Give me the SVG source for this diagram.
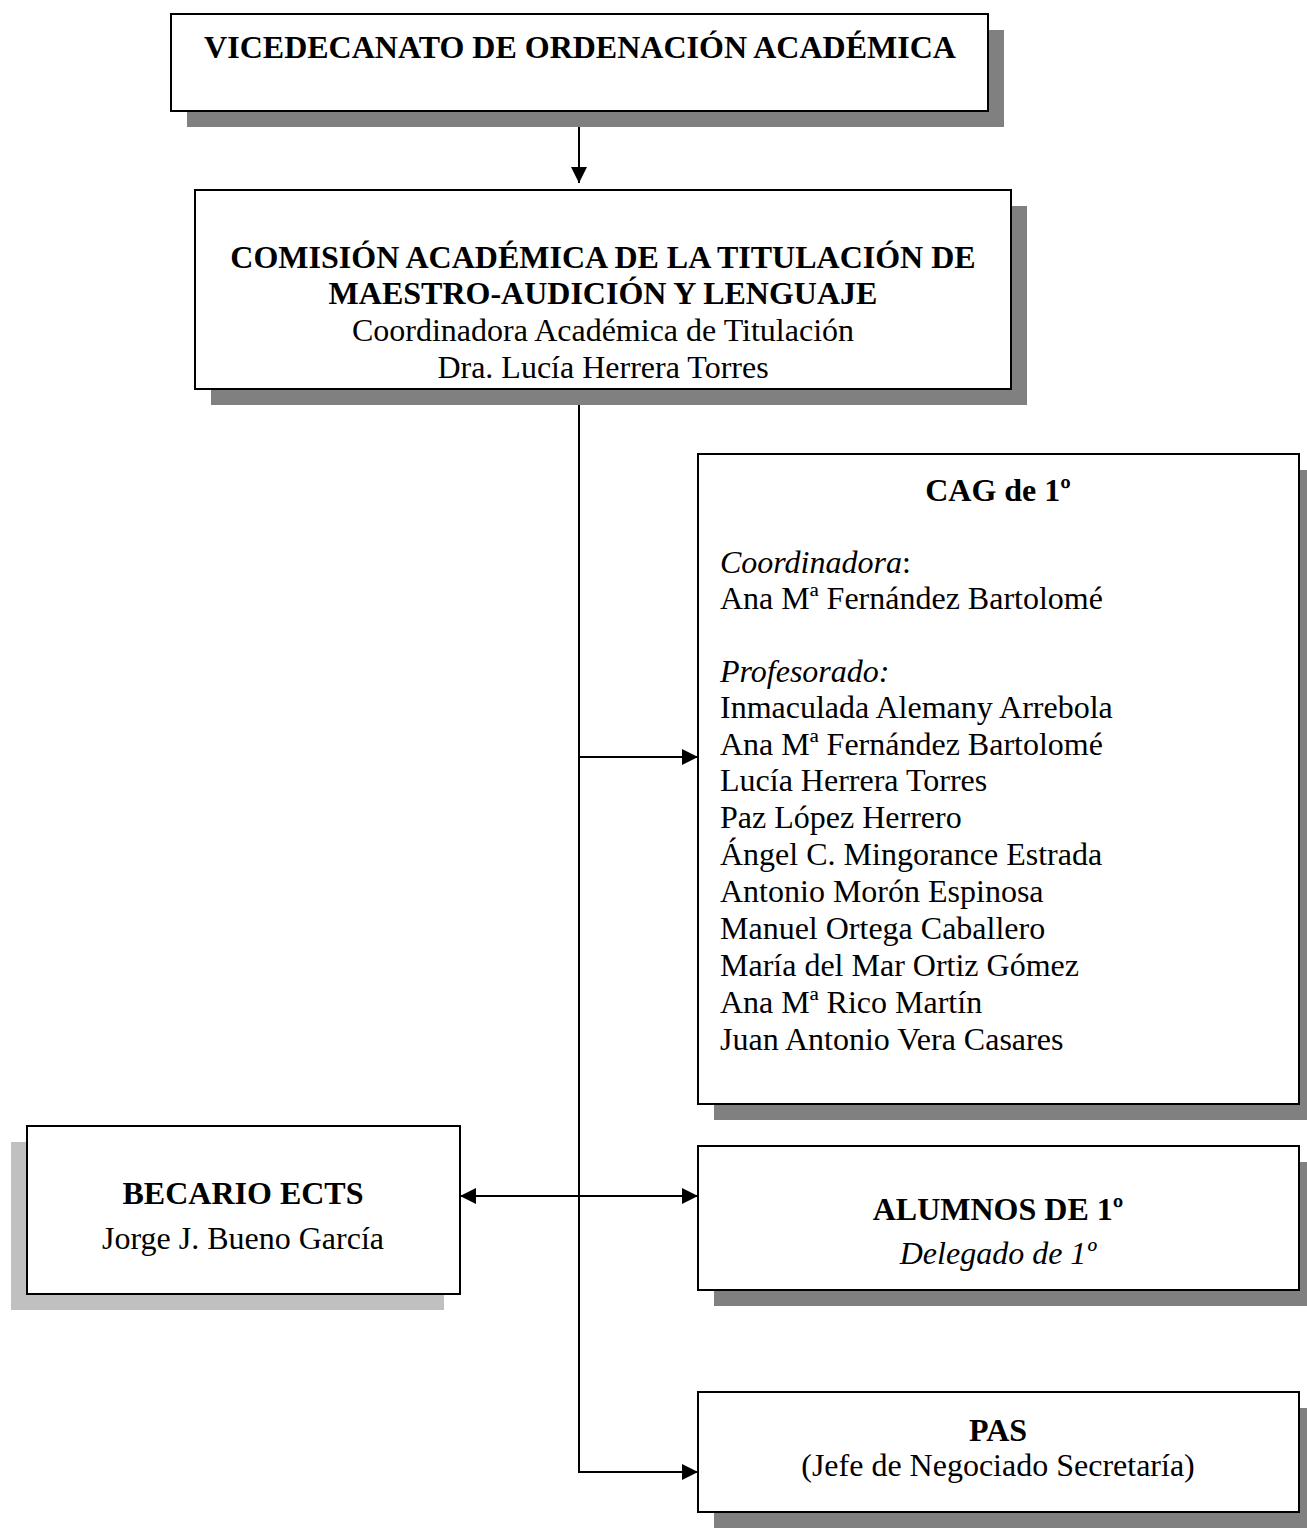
<svg xmlns="http://www.w3.org/2000/svg" width="1307" height="1531" viewBox="0 0 1307 1531">
<style>
.box{fill:#fff;stroke:#000;stroke-width:2}
.sh{fill:#808080}
.shl{fill:#c0c0c0}
text{font-family:"Liberation Serif","Times New Roman",serif;font-size:32px;fill:#000}
.b{font-weight:bold}
.i{font-style:italic}
.c{text-anchor:middle}
.ln{stroke:#000;stroke-width:2;fill:none}
</style>
<defs>
<marker id="ah" markerUnits="userSpaceOnUse" markerWidth="16" markerHeight="16" viewBox="0 0 16 16" refX="16" refY="8" orient="auto-start-reverse">
<path d="M0,0 L16,8 L0,16 Z" fill="#000"/>
</marker>
</defs>
<g id="connectors">
<line class="ln" x1="579" y1="111" x2="579" y2="183" marker-end="url(#ah)"/>
<line class="ln" x1="579" y1="389" x2="579" y2="1472"/>
<line class="ln" x1="579" y1="757" x2="698" y2="757" marker-end="url(#ah)"/>
<line class="ln" x1="460" y1="1196" x2="698" y2="1196" marker-start="url(#ah)" marker-end="url(#ah)"/>
<line class="ln" x1="578" y1="1472" x2="698" y2="1472" marker-end="url(#ah)"/>
</g>
<g id="vicedecanato">
<rect class="sh" x="187" y="30" width="817" height="97"/>
<rect class="box" x="171" y="14" width="817" height="97"/>
<text class="b c" x="580" y="58">VICEDECANATO DE ORDENACIÓN ACADÉMICA</text>
</g>
<g id="comision">
<rect class="sh" x="211" y="206" width="816" height="199"/>
<rect class="box" x="195" y="190" width="816" height="199"/>
<text class="b c" x="603" y="268">COMISIÓN ACADÉMICA DE LA TITULACIÓN DE</text>
<text class="b c" x="603" y="304">MAESTRO-AUDICIÓN Y LENGUAJE</text>
<text class="c" x="603" y="341">Coordinadora Académica de Titulación</text>
<text class="c" x="603" y="378">Dra. Lucía Herrera Torres</text>
</g>
<g id="cag">
<rect class="sh" x="714" y="470" width="601" height="650"/>
<rect class="box" x="698" y="454" width="601" height="650"/>
<text class="b c" x="998" y="501">CAG de 1º</text>
<text x="720" y="572.5"><tspan class="i">Coordinadora</tspan>:</text>
<text x="720" y="608.5">Ana Mª Fernández Bartolomé</text>
<text class="i" x="720" y="681.5">Profesorado:</text>
<text x="720" y="717.6">Inmaculada Alemany Arrebola</text>
<text x="720" y="754.5">Ana Mª Fernández Bartolomé</text>
<text x="720" y="791.4">Lucía Herrera Torres</text>
<text x="720" y="828.3">Paz López Herrero</text>
<text x="720" y="865.2">Ángel C. Mingorance Estrada</text>
<text x="720" y="902.1">Antonio Morón Espinosa</text>
<text x="720" y="939">Manuel Ortega Caballero</text>
<text x="720" y="975.9">María del Mar Ortiz Gómez</text>
<text x="720" y="1012.8">Ana Mª Rico Martín</text>
<text x="720" y="1049.7">Juan Antonio Vera Casares</text>
</g>
<g id="becario">
<rect class="shl" x="11" y="1142" width="433" height="168"/>
<rect class="box" x="27" y="1126" width="433" height="168"/>
<text class="b c" x="243" y="1204">BECARIO ECTS</text>
<text class="c" x="243" y="1249">Jorge J. Bueno García</text>
</g>
<g id="alumnos">
<rect class="sh" x="714" y="1162" width="601" height="144"/>
<rect class="box" x="698" y="1146" width="601" height="144"/>
<text class="b c" x="998" y="1220">ALUMNOS DE 1º</text>
<text class="i c" x="998" y="1264">Delegado de 1º</text>
</g>
<g id="pas">
<rect class="sh" x="714" y="1408" width="601" height="120"/>
<rect class="box" x="698" y="1392" width="601" height="120"/>
<text class="b c" x="998" y="1441">PAS</text>
<text class="c" x="998" y="1476">(Jefe de Negociado Secretaría)</text>
</g>
</svg>
